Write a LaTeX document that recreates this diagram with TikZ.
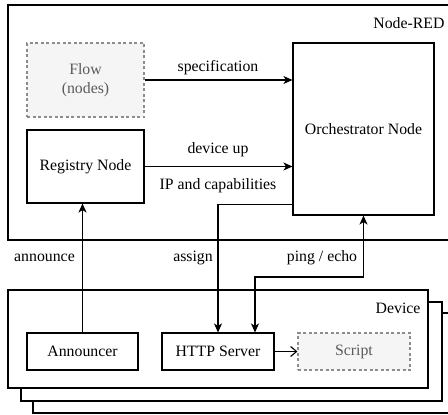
\documentclass[tikz,border=0pt]{standalone}
\usepackage{fontspec}
\setmainfont{Liberation Serif}
\usetikzlibrary{arrows.meta}
\definecolor{ghostfill}{HTML}{F5F5F5}
\definecolor{ghostline}{HTML}{8C8C8C}
\definecolor{ghosttext}{HTML}{5A5A5A}
\tikzset{
  base/.style={line width=1.1pt, font=\fontsize{15.8}{19}\selectfont},
  box/.style={draw, fill=white, line width=1.1pt, align=center, inner sep=0pt},
  ghost/.style={box, draw=ghostline, fill=ghostfill, text=ghosttext, dash pattern=on 3pt off 2.5pt},
  frame/.style={draw, fill=white, line width=1.1pt},
  conn/.style={line width=1.1pt, -{Stealth[length=9pt,width=8pt,inset=2.5pt]}},
  bothconn/.style={line width=1.1pt, {Stealth[length=9pt,width=8pt,inset=2.5pt]}-{Stealth[length=9pt,width=8pt,inset=2.5pt]}},
  openconn/.style={line width=1.1pt, -{Straight Barb[length=6pt,width=10pt]}},
  lbl/.style={inner sep=0pt}
}
\begin{document}
\begin{tikzpicture}[x=1pt, y=-1pt, base]
\useasboundingbox (0,0) rectangle (448,415);
\clip (0,0) rectangle (448,415);

% Node-RED container
\draw[frame] (8,5) rectangle (470,240);
\node[lbl, anchor=east] (nodered) at (445,23) {Node-RED};

% stacked device containers
\draw[frame] (33,313) rectangle (470,413);
\draw[frame] (21,302) rectangle (442,401);
\draw[frame] (8,290) rectangle (428,388);
\node[lbl, anchor=east] (device) at (421,308) {Device};

% components
\node[ghost, minimum width=117pt, minimum height=74pt] (flow) at (85.5,80) {Flow\\(nodes)};
\node[box, minimum width=117pt, minimum height=73pt] (reg) at (85.5,166.5) {Registry Node};
\node[box, minimum width=141pt, minimum height=172pt] (orch) at (363.5,129) {Orchestrator Node};
\node[box, minimum width=111pt, minimum height=37pt] (ann) at (82.5,351.5) {Announcer};
\node[box, minimum width=112pt, minimum height=37pt] (http) at (218,351.5) {HTTP Server};
\node[ghost, minimum width=112pt, minimum height=37pt] (script) at (354,351.5) {Script};

% connectors
\draw[conn] (flow.east) -- (flow.east -| orch.west);
\draw[conn] (reg.east) -- (reg.east -| orch.west);
\draw[conn] ([yshift=11pt]orch.south west) -| (http.north);
\coordinate (pe) at (300,277);
\draw[bothconn] (orch.south) |- (pe) -| ([xshift=37pt]http.north);
\draw[conn] (ann.north) -- (ann.north |- reg.south);
\draw[openconn] (http.east) -- (script.west);

% connector labels
\node[lbl] (lspec) at (218,68) {specification};
\node[lbl] (lup) at (218,150) {device up};
\node[lbl] (lip) at (218,186) {IP and capabilities};
\node[lbl] (lann) at (44.5,258) {announce};
\node[lbl] (lassign) at (193,258) {assign};
\node[lbl] (lping) at (322,258) {ping / echo};
\end{tikzpicture}
\end{document}
